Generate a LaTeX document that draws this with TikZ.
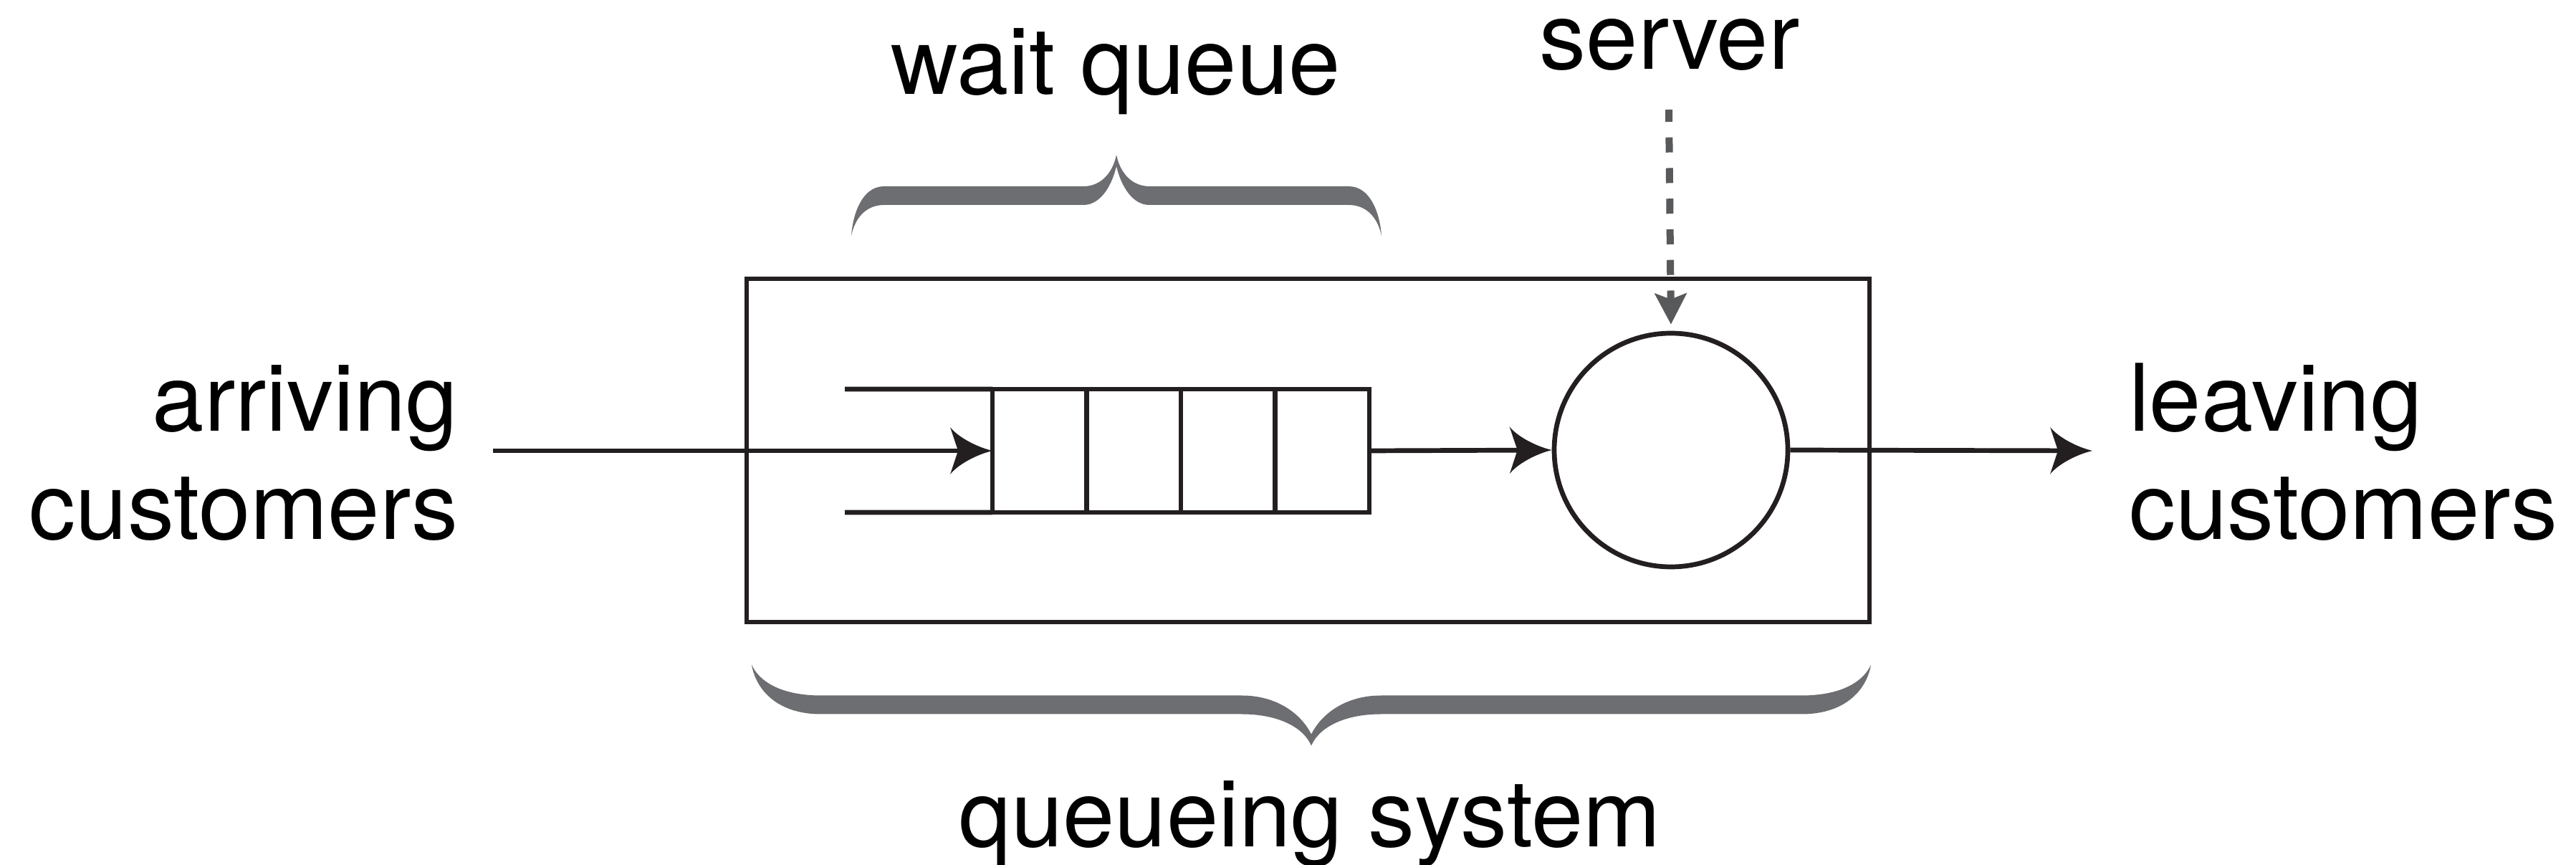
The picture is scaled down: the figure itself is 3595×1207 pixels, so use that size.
\documentclass[tikz,border=0pt]{standalone}
\usepackage{fontspec}
\setmainfont{TeX Gyre Heros}
\usetikzlibrary{arrows.meta,calc}

\definecolor{ink}{HTML}{231F20}
\definecolor{bracegray}{HTML}{6D6E71}
\definecolor{dashgray}{HTML}{58595B}

% arrowhead with concave flanks and a notched back
\pgfdeclarearrow{
  name = Barb,
  setup code = {
    \pgfarrowssettipend{0pt}
    \pgfarrowssetlineend{-9pt}
    \pgfarrowssetbackend{-11.8pt}
    \pgfarrowssetvisualbackend{-9.6pt}
    \pgfarrowshullpoint{0pt}{0pt}
    \pgfarrowshullpoint{-11.8pt}{6.6pt}
    \pgfarrowshullpoint{-11.8pt}{-6.6pt}
  },
  drawing code = {
    \pgfpathmoveto{\pgfpoint{0pt}{0pt}}
    \pgfpathcurveto{\pgfpoint{-5pt}{1.2pt}}{\pgfpoint{-10pt}{4.2pt}}{\pgfpoint{-11.8pt}{6.6pt}}
    \pgfpathlineto{\pgfpoint{-9.6pt}{0pt}}
    \pgfpathlineto{\pgfpoint{-11.8pt}{-6.6pt}}
    \pgfpathcurveto{\pgfpoint{-10pt}{-4.2pt}}{\pgfpoint{-5pt}{-1.2pt}}{\pgfpoint{0pt}{0pt}}
    \pgfpathclose
    \pgfusepathqfill
  }
}

% filled curly brace: centre x, band y, half width, curl extent, +1 = tip up / -1 = tip down
\newcommand\curlybrace[5]{%
  \begin{scope}[shift={(#1,#2)},yscale=#5]
    \fill[bracegray]
      (-#3,56)
      .. controls ({-#3+0.05*#4},25) and ({-#3+0.33*#4},-13) .. ({-#3+#4},-13)
      -- ({-#4},-13)
      .. controls ({-0.5*#4},-13) and ({-0.12*#4},-30) .. (0,-57)
      .. controls ({0.12*#4},-30) and ({0.5*#4},-13) .. ({#4},-13)
      -- ({#3-#4},-13)
      .. controls ({#3-0.33*#4},-13) and ({#3-0.05*#4},25) .. (#3,56)
      .. controls ({#3-0.1*#4},34) and ({#3-0.4*#4},13) .. ({#3-#4},13)
      -- ({#4},13)
      .. controls ({0.5*#4},13) and ({0.15*#4},-12) .. (0,-41)
      .. controls ({-0.15*#4},-12) and ({-0.5*#4},13) .. ({-#4},13)
      -- ({-#3+#4},13)
      .. controls ({-#3+0.4*#4},13) and ({-#3+0.1*#4},34) .. cycle;
  \end{scope}}

\begin{document}
\begin{tikzpicture}[
  x=0.2pt, y=-0.2pt,
  line/.style={draw=ink, line width=1.34pt},
  flow/.style={line, -{Barb}},
  cue/.style={draw=dashgray, line width=2pt, dash pattern=on 4.2pt off 4.35pt,
    dash phase=0.8pt, -{Stealth[length=8.6pt,width=8.8pt,inset=1.6pt]},
    shorten >=1.8pt},
  sysbox/.style={line, rectangle, minimum width=313.4pt, minimum height=95.8pt,
    inner sep=0pt, outer sep=0pt},
  qbox/.style={line, rectangle, minimum width=105.2pt, minimum height=34.4pt,
    inner sep=0pt, outer sep=0pt},
  srv/.style={line, circle, minimum size=65.2pt, inner sep=0pt},
  label/.style={font=\fontsize{26}{30.2}\selectfont, text=black, inner sep=0pt}
]
\useasboundingbox (0,0) rectangle (3595,1207);

% labels (two-line labels are anchored on their last baseline)
\node[label, anchor=base east, align=right] (arriving) at (640,753) {arriving\\customers};
\node[label, anchor=base west, align=left] (leaving) at (2970,753) {leaving\\customers};
\node[label, anchor=base] (waitlabel) at (1557,132) {wait queue};
\node[label, anchor=base] (serverlabel) at (2330,97) {server};
\node[label, anchor=base] (systemlabel) at (1828,1182) {queueing system};

% queue cells and server
\node[qbox] (queue) at (1648,629) {};
\node[srv] (server) at (2332,628) {};

\coordinate (inflow) at (688,629);
\coordinate (outflow) at (2920,629);
\coordinate (railtop) at (1179,543);
\coordinate (railbot) at (1179,715);
\coordinate (cuestart) at (2329,153);

% rails of the waiting line
\draw[line] (railtop) -- (queue.north west);
\draw[line] (railbot) -- (queue.south west);
\foreach \k in {1,2,3}
  \draw[line] ($(queue.north west)!\k/4!(queue.north east)$)
           -- ($(queue.south west)!\k/4!(queue.south east)$);

% pointer to the server
\draw[cue] (cuestart) -- (server.north);

% system boundary
\node[sysbox] (system) at (1825.5,628.5) {};

% customer flow
\draw[flow] (inflow) -- (queue.west);
\draw[flow] (queue.east) -- (server.west);
\draw[flow] (server.east) -- (outflow);

% braces
\curlybrace{1558}{273}{370}{46}{1}
\curlybrace{1830}{983.5}{781}{97}{-1}
\end{tikzpicture}
\end{document}
